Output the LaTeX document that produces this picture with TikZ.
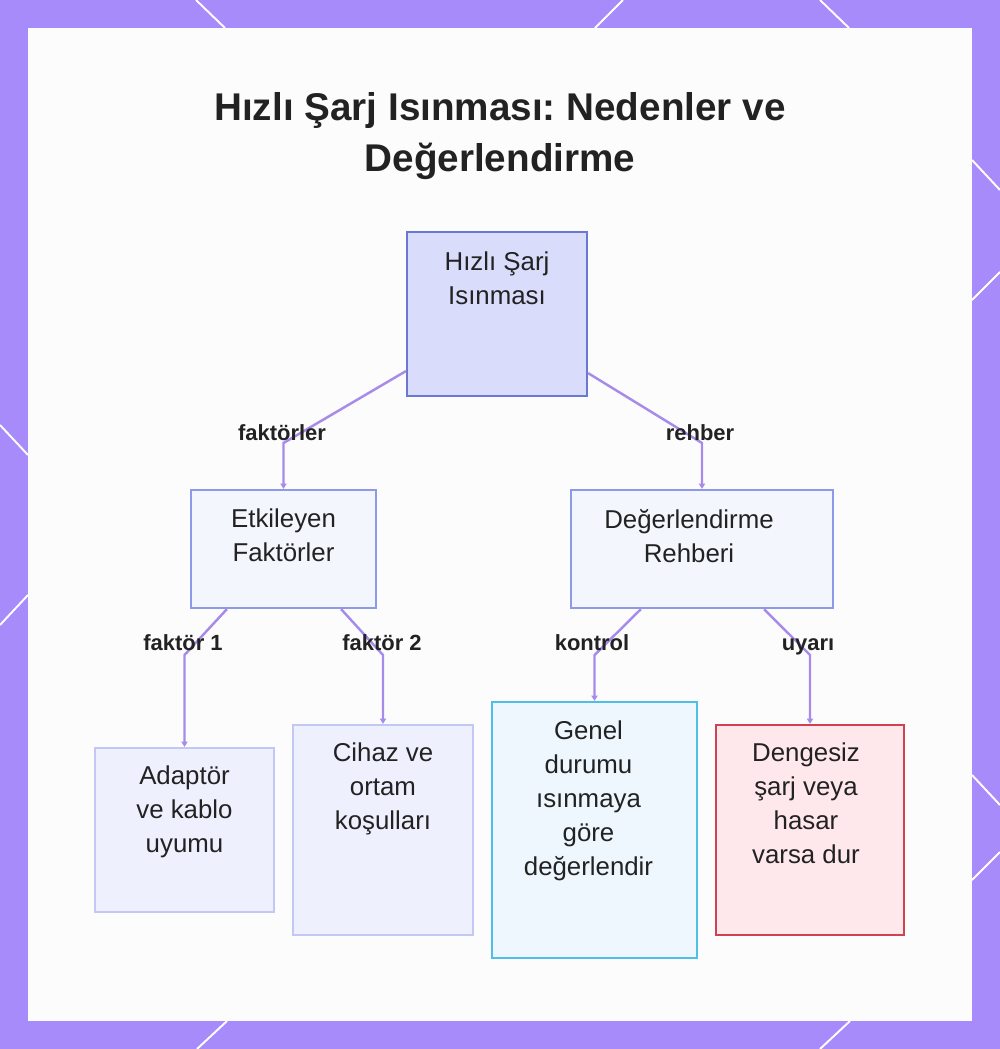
\documentclass[tikz,border=0pt]{standalone}
\usepackage{fontspec}
\setmainfont{Liberation Sans}
\usetikzlibrary{arrows.meta,calc}
\frenchspacing

\definecolor{frame}{HTML}{A78BFA}
\definecolor{card}{HTML}{FDFCFC}
\definecolor{ink}{HTML}{222222}
\definecolor{link}{HTML}{A78BEA}
\definecolor{rootfill}{HTML}{D9DCFB}
\definecolor{rootline}{HTML}{6A78D4}
\definecolor{midfill}{HTML}{F4F6FE}
\definecolor{midline}{HTML}{8C9BE8}
\definecolor{leaffill}{HTML}{EEF0FD}
\definecolor{leafline}{HTML}{C2C8F3}
\definecolor{chkfill}{HTML}{EEF7FE}
\definecolor{chkline}{HTML}{4EC0E8}
\definecolor{warnfill}{HTML}{FFE8EC}
\definecolor{warnline}{HTML}{D0424F}

\begin{document}
\begin{tikzpicture}[x=0.02cm,y=-0.02cm,
  box/.style={draw,line width=1.3pt,inner sep=0pt},
  txt/.style={anchor=north,inner sep=0pt,align=center,text=ink,
    font=\fontsize{14.7}{19.3}\selectfont},
  lbl/.style={anchor=base,inner sep=0pt,text=ink,font=\bfseries\fontsize{12.5}{15}\selectfont},
  conn/.style={draw=link,line width=1.4pt,-{Triangle[length=3pt,width=3.5pt]}},
  deco/.style={draw=white,line width=1.1pt}]
\useasboundingbox (0,0) rectangle (1000,1049);

% frame and card
\fill[frame] (0,0) rectangle (1000,1049);
\draw[deco] (196,0) -- (225,28);
\draw[deco] (623,0) -- (595,28);
\draw[deco] (820,0) -- (849,28);
\draw[deco] (0,425) -- (28,455);
\draw[deco] (28,595) -- (0,625);
\draw[deco] (227,1021) -- (197,1049);
\draw[deco] (850,1021) -- (820,1049);
\draw[deco] (972,160) -- (1000,190);
\draw[deco] (972,300) -- (1000,272);
\draw[deco] (972,775) -- (1000,805);
\draw[deco] (972,880) -- (1000,852);
\fill[card] (28,28) rectangle (972,1021);

% title
\node[inner sep=0pt,align=center,text=ink,font=\bfseries\fontsize{22}{29}\selectfont]
  (title) at (500,136) {Hızlı Şarj Isınması: Nedenler ve\\Değerlendirme};

% boxes
\node[box,draw=rootline,fill=rootfill,minimum width=3.6cm,minimum height=3.28cm] (root) at (497,314) {};
\node[box,draw=midline,fill=midfill,minimum width=3.7cm,minimum height=2.36cm] (ek) at (283.5,549) {};
\node[box,draw=midline,fill=midfill,minimum width=5.24cm,minimum height=2.36cm] (dr) at (702,549) {};
\node[box,draw=leafline,fill=leaffill,minimum width=3.58cm,minimum height=3.28cm] (ad) at (184.5,830) {};
\node[box,draw=leafline,fill=leaffill,minimum width=3.6cm,minimum height=4.2cm] (ci) at (383,830) {};
\node[box,draw=chkline,fill=chkfill,minimum width=4.1cm,minimum height=5.12cm] (ge) at (594.5,830) {};
\node[box,draw=warnline,fill=warnfill,minimum width=3.76cm,minimum height=4.2cm] (de) at (810,830) {};

\node[txt] (root-t) at ($(root.north)+(0,21)$) {Hızlı Şarj\\Isınması};
\node[txt] (ek-t) at ($(ek.north)+(0,20)$) {Etkileyen\\Faktörler};
\node[txt] (dr-t) at ($(dr.north)+(-13,20)$) {Değerlendirme\\Rehberi};
\node[txt] (ad-t) at ($(ad.north)+(0,19)$) {Adaptör\\ve kablo\\uyumu};
\node[txt] (ci-t) at ($(ci.north)+(0,19)$) {Cihaz ve\\ortam\\koşulları};
\node[txt] (ge-t) at ($(ge.north)+(-6,20)$) {Genel\\durumu\\ısınmaya\\göre\\değerlendir};
\node[txt] (de-t) at ($(de.north)+(-4,19)$) {Dengesiz\\şarj veya\\hasar\\varsa dur};

% connectors
\draw[conn] ($(root.south west)+(0,-26)$) -- (ek.north |- 0,443) -- (ek.north);
\draw[conn] ($(root.south east)+(0,-24)$) -- (dr.north |- 0,443) -- (dr.north);
\draw[conn] ($(ek.south west)+(37,0)$) -- (ad.north |- 0,655) -- (ad.north);
\draw[conn] ($(ek.south east)+(-36,0)$) -- (ci.north |- 0,655) -- (ci.north);
\draw[conn] ($(dr.south west)+(71,0)$) -- (ge.north |- 0,655) -- (ge.north);
\draw[conn] ($(dr.south east)+(-70,0)$) -- (de.north |- 0,655) -- (de.north);

% labels
\node[lbl] (l-fak) at (282,440) {faktörler};
\node[lbl] (l-reh) at (700,440) {rehber};
\node[lbl] (l-f1) at (183,650) {faktör 1};
\node[lbl] (l-f2) at (382,650) {faktör 2};
\node[lbl] (l-kon) at (592,650) {kontrol};
\node[lbl] (l-uya) at (808,650) {uyarı};
\end{tikzpicture}
\end{document}
